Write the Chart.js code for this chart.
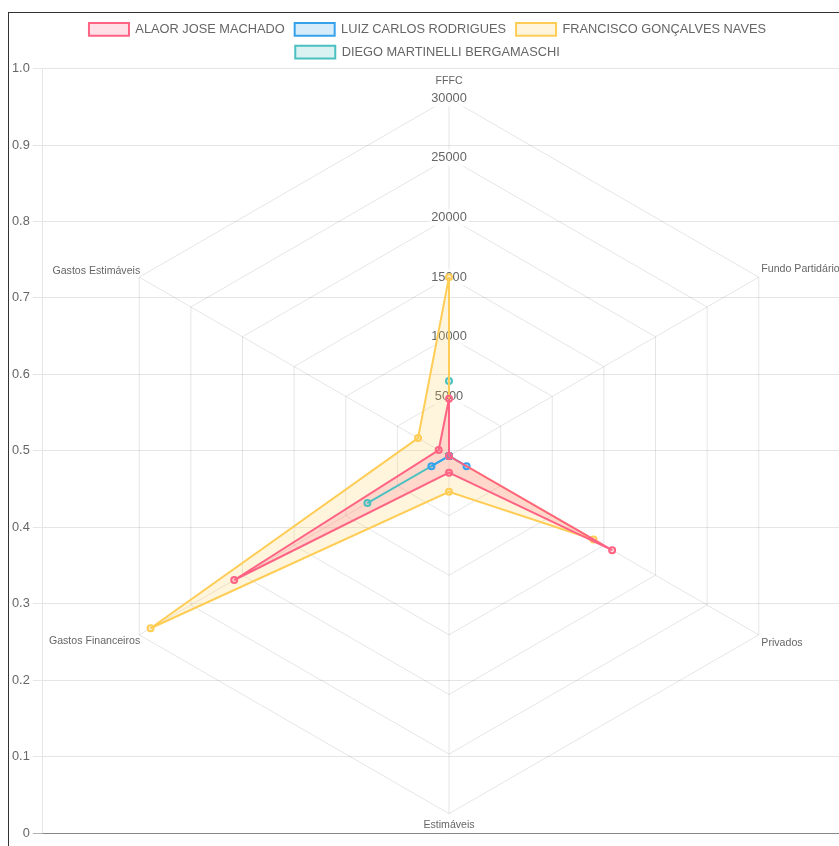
<!DOCTYPE html>
<html>
<head>
<meta charset="utf-8">
<script src="https://cdn.jsdelivr.net/npm/chart.js@4.4.1/dist/chart.umd.min.js"></script>
<style>
  html, body { margin: 0; padding: 0; overflow: hidden; background: #fff; }
  #box {
    position: absolute;
    left: 8px;
    top: 12px;
    width: 837px;
    height: 852px;
    border: 1px solid #333;
  }
  #radarChart { display: block; }
</style>
</head>
<body>
<div id="box">
  <canvas id="radarChart"></canvas>
</div>
<script>
const labels = [
  "FFFC",
  "Fundo Partidário",
  "Privados",
  "Estimáveis",
  "Gastos Financeiros",
  "Gastos Estimáveis",
];

const alaorValues = [4800, 0, 15800, 1400, 20800, 1000];
const luizValues = [0, 0, 1700, 0, 1700, 0];
const franciscoValues = [15000, 0, 14000, 3000, 28900, 3000];
const diegoValues = [6300, 0, 0, 0, 7900, 0];

const candidates = [
  { name: "ALAOR JOSE MACHADO", values: alaorValues, rgb: "255, 99, 132" },
  { name: "LUIZ CARLOS RODRIGUES", values: luizValues, rgb: "54, 162, 235" },
  { name: "FRANCISCO GONÇALVES NAVES", values: franciscoValues, rgb: "255, 205, 86" },
  { name: "DIEGO MARTINELLI BERGAMASCHI", values: diegoValues, rgb: "75, 192, 192" },
];

Chart.defaults.font.size = 12.8;
Chart.defaults.color = "#666";

const canvas = document.getElementById("radarChart");
canvas.style.width = "837px";
canvas.style.height = "852px";
canvas.width = 837;
canvas.height = 852;
const ctx = canvas.getContext("2d");

const datasets = candidates.map((c) => ({
  label: c.name,
  data: c.values,
  borderColor: `rgb(${c.rgb})`,
  backgroundColor: `rgba(${c.rgb}, 0.2)`,
  borderWidth: 2,
  pointRadius: 3,
}));

// per-label spacing so the labels sit where the old layout put them
function labelPadding(c) {
  if (c.index === 0) return 2.6;
  if (c.index === 3) return 3.2;
  if (c.index === 4 || c.index === 5) return -9.5;
  return -5.4;
}

const chart = new Chart(ctx, {
  type: "radar",
  data: { labels, datasets },
  options: {
    responsive: false,
    animation: false,
    layout: {
      padding: { bottom: 24 },
    },
    scales: {
      r: {
        beginAtZero: true,
        max: 30000,
        ticks: {
          stepSize: 5000,
          callback: (v) => String(v),
        },
        pointLabels: {
          font: (c) => ({ size: 10.6, lineHeight: c.index === 3 ? 0.01 : 1.2 }),
          padding: labelPadding,
        },
      },
      y: {
        type: "linear",
        position: "left",
        min: 0,
        max: 1,
        grid: {
          color: (c) => (c.tick && c.tick.value === 0 ? "rgba(0,0,0,0.3)" : "rgba(0,0,0,0.1)"),
          tickLength: 10,
        },
      },
      x: {
        type: "linear",
        position: "bottom",
        grid: { display: false },
        ticks: { display: false },
        border: { color: "rgba(0,0,0,0.25)" },
      },
    },
    plugins: {
      filler: { drawTime: "beforeDatasetsDraw" },
      legend: { position: "top" },
      tooltip: { enabled: true },
    },
  },
});
</script>
</body>
</html>
